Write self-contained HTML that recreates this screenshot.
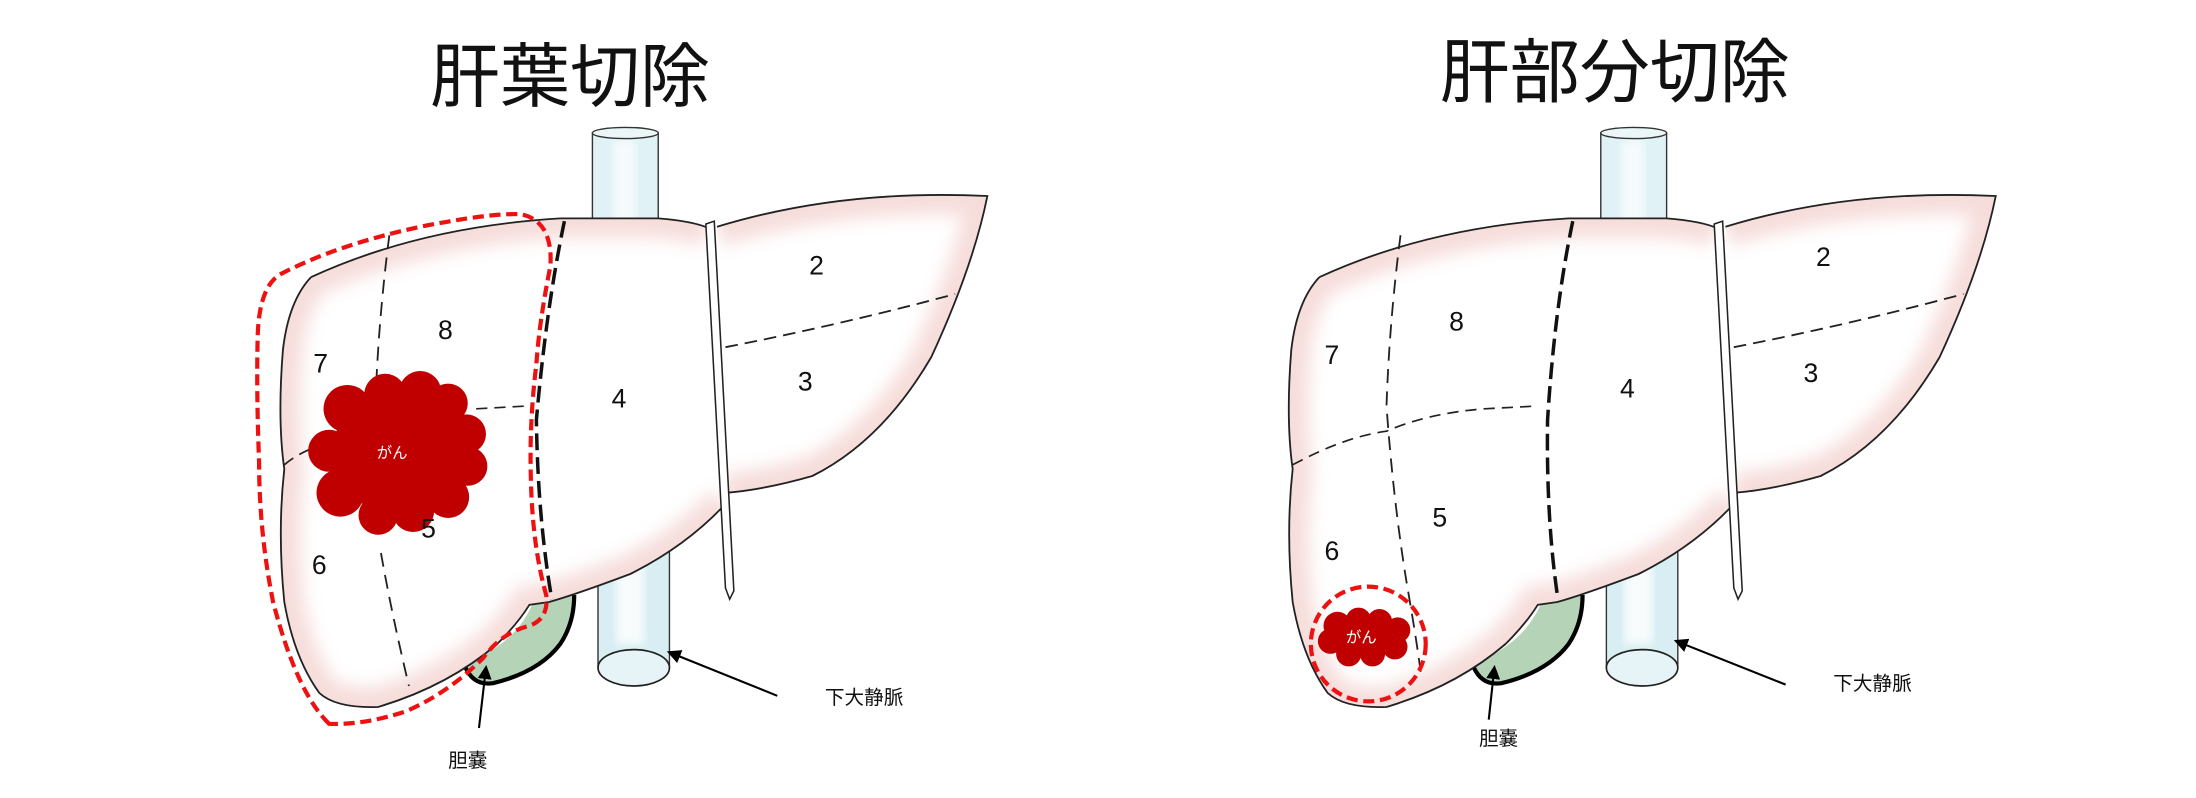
<!DOCTYPE html>
<html><head><meta charset="utf-8"><style>
html,body{margin:0;padding:0;background:#fff;}
svg{display:block;}
text{font-family:"Liberation Sans","Noto Sans CJK JP",sans-serif;}
</style></head><body>
<svg width="2196" height="798" viewBox="0 0 1568 570" preserveAspectRatio="none" xmlns="http://www.w3.org/2000/svg">
<defs>
<filter id="bl" x="-20%" y="-20%" width="140%" height="140%"><feGaussianBlur stdDeviation="6"/></filter>
<filter id="bl2"><feGaussianBlur stdDeviation="3"/></filter>
<clipPath id="cR"><path d="M222,198 Q300,162 400,156 L470,156 Q495,158 506,163 L518,360 Q490,390 450,410 Q410,425 392,430 L378,432 Q370,445 355,460 Q320,490 270,505 Q240,506 228,495 Q210,470 203,430 Q198,380 203,335 Q198,300 202,250 Q206,215 222,198 Z"/></clipPath>
<clipPath id="cL"><path d="M512,162 Q600,135 705,140 Q695,190 665,255 Q630,315 580,340 Q545,350 518,352 Z"/></clipPath>
<marker id="ar" markerWidth="10" markerHeight="10" refX="8" refY="5" orient="auto" markerUnits="userSpaceOnUse"><path d="M0,0 L10,5 L0,10 Z" fill="#000"/></marker>
<g id="liver">
 <rect x="423" y="95" width="47" height="80" fill="#e0f2f6" stroke="#333" stroke-width="1"/>
 <rect x="438" y="100" width="16" height="75" fill="#fff" opacity="0.7" filter="url(#bl2)"/>
 <ellipse cx="446.5" cy="95" rx="23.5" ry="4" fill="#eaf6f8" stroke="#333" stroke-width="1"/>
 <rect x="427" y="385" width="51" height="92" fill="#d8eef3" stroke="#333" stroke-width="1"/>
 <rect x="440" y="390" width="20" height="70" fill="#fff" opacity="0.8" filter="url(#bl2)"/>
 <ellipse cx="452.5" cy="477" rx="25.5" ry="13" fill="#e6f4f7" stroke="#222" stroke-width="1.2"/>
 <path d="M380,432 Q372,450 355,462 Q340,472 332,478 Q338,490 352,488 Q385,480 400,460 Q410,445 410,425 Z" fill="#b5d3b7"/>
 <path d="M332,476 Q338,490 352,488 Q385,480 400,460 Q410,445 410,425" fill="none" stroke="#000" stroke-width="3"/>
 <path d="M222,198 Q300,162 400,156 L470,156 Q495,158 506,163 L518,360 Q490,390 450,410 Q410,425 392,430 L378,432 Q370,445 355,460 Q320,490 270,505 Q240,506 228,495 Q210,470 203,430 Q198,380 203,335 Q198,300 202,250 Q206,215 222,198 Z" fill="#fff"/>
 <g clip-path="url(#cR)"><path d="M222,198 Q300,162 400,156 L470,156 Q495,158 506,163 M518,360 Q490,390 450,410 Q410,425 392,430 L378,432 Q370,445 355,460 Q320,490 270,505 Q240,506 228,495 Q210,470 203,430 Q198,380 203,335 Q198,300 202,250 Q206,215 222,198" fill="none" stroke="#e8aaa4" stroke-width="28" opacity="0.4" filter="url(#bl)"/></g>
 <path d="M222,198 Q300,162 400,156 L470,156 Q495,158 506,163 M518,360 Q490,390 450,410 Q410,425 392,430 L378,432 Q370,445 355,460 Q320,490 270,505 Q240,506 228,495 Q210,470 203,430 Q198,380 203,335 Q198,300 202,250 Q206,215 222,198" fill="none" stroke="#222" stroke-width="1.3"/>
 <path d="M512,162 Q600,135 705,140 Q695,190 665,255 Q630,315 580,340 Q545,350 518,352 Z" fill="#fff"/>
 <g clip-path="url(#cL)"><path d="M512,162 Q600,135 705,140 Q695,190 665,255 Q630,315 580,340 Q545,350 518,352" fill="none" stroke="#e8aaa4" stroke-width="28" opacity="0.4" filter="url(#bl)"/></g>
 <path d="M512,162 Q600,135 705,140 Q695,190 665,255 Q630,315 580,340 Q545,350 518,352" fill="none" stroke="#222" stroke-width="1.3"/>
 <path d="M504,160 L510,158 L524,422 L521,428 L518,420 Z" fill="#fff" stroke="#222" stroke-width="1.1"/>
 <path d="M518,248 Q600,232 682,210" fill="none" stroke="#222" stroke-width="1.3" stroke-dasharray="9,5"/>
</g>
</defs>

<text x="407" y="72" font-size="50" text-anchor="middle" fill="#111">肝葉切除</text>
<use href="#liver"/>
<path d="M278,168 Q270,230 268,290" fill="none" stroke="#222" stroke-width="1.3" stroke-dasharray="10,6"/>
<path d="M272,395 Q280,440 292,490" fill="none" stroke="#222" stroke-width="1.3" stroke-dasharray="10,6"/>
<path d="M203,332 Q215,322 230,318 M340,292 L376,290" fill="none" stroke="#222" stroke-width="1.2" stroke-dasharray="8,5"/>
<path d="M403,158 Q390,220 383,300 Q384,370 394,428" fill="none" stroke="#111" stroke-width="2.5" stroke-dasharray="12,5"/>
<g fill="#c00000">
 <circle cx="248" cy="292" r="17"/><circle cx="275" cy="282" r="15"/><circle cx="300" cy="280" r="15"/><circle cx="320" cy="288" r="14"/>
 <circle cx="333" cy="310" r="14"/><circle cx="334" cy="333" r="14"/><circle cx="320" cy="355" r="15"/><circle cx="295" cy="365" r="15"/>
 <circle cx="270" cy="368" r="14"/><circle cx="243" cy="352" r="17"/><circle cx="235" cy="322" r="15"/><circle cx="283" cy="322" r="45"/>
</g>
<text x="280" y="327" font-size="11" text-anchor="middle" fill="#fff">がん</text>
<path d="M235,517 Q212,495 195,430 Q185,380 185,330 Q183,280 184,240 Q185,205 200,196 Q240,175 300,162 Q350,152 372,153 Q395,158 393,190 Q385,230 383,260 Q378,300 379,340 Q380,390 390,425 Q392,442 378,447 Q358,452 345,470 Q320,495 290,508 Q260,518 235,517 Z" fill="none" stroke="#ee1111" stroke-width="3" stroke-dasharray="8,4"/>
<g font-size="19" fill="#111" text-anchor="middle">
 <text x="229" y="266">7</text><text x="318" y="242">8</text><text x="442" y="291">4</text>
 <text x="583" y="196">2</text><text x="575" y="279">3</text><text x="306" y="384">5</text><text x="228" y="410">6</text>
</g>
<line x1="555" y1="497" x2="478" y2="466" stroke="#000" stroke-width="1.5" marker-end="url(#ar)"/>
<line x1="342" y1="520" x2="347" y2="477" stroke="#000" stroke-width="1.5" marker-end="url(#ar)"/>
<text x="617" y="503" font-size="14" text-anchor="middle" fill="#111">下大静脈</text>
<text x="334" y="548" font-size="14" text-anchor="middle" fill="#111">胆嚢</text>

<text x="1153" y="69" font-size="50" text-anchor="middle" fill="#111">肝部分切除</text>
<use href="#liver" transform="translate(720,0)"/>
<path d="M1000,168 Q992,230 990,290 Q995,360 1005,420 Q1012,460 1015,485" fill="none" stroke="#222" stroke-width="1.3" stroke-dasharray="10,6"/>
<path d="M923,332 Q960,312 990,308 Q1020,295 1060,292 L1098,290" fill="none" stroke="#222" stroke-width="1.2" stroke-dasharray="8,5"/>
<path d="M1123,158 Q1110,220 1105,300 Q1104,370 1112,425" fill="none" stroke="#111" stroke-width="2.5" stroke-dasharray="12,5"/>
<g fill="#c00000">
 <circle cx="955" cy="447" r="10"/><circle cx="970" cy="443" r="9"/><circle cx="985" cy="444" r="9"/><circle cx="998" cy="450" r="9"/>
 <circle cx="996" cy="462" r="9"/><circle cx="980" cy="467" r="9"/><circle cx="963" cy="467" r="9"/><circle cx="950" cy="458" r="9"/>
 <ellipse cx="974" cy="455" rx="24" ry="13"/>
</g>
<text x="972" y="459" font-size="11" text-anchor="middle" fill="#fff">がん</text>
<circle cx="977" cy="460" r="41" fill="none" stroke="#ee1111" stroke-width="3" stroke-dasharray="8,4"/>
<g font-size="19" fill="#111" text-anchor="middle">
 <text x="951" y="260">7</text><text x="1040" y="236">8</text><text x="1162" y="284">4</text>
 <text x="1302" y="190">2</text><text x="1293" y="273">3</text><text x="1028" y="376">5</text><text x="951" y="400">6</text>
</g>
<line x1="1275" y1="489" x2="1197" y2="458" stroke="#000" stroke-width="1.5" marker-end="url(#ar)"/>
<line x1="1063" y1="514" x2="1067" y2="477" stroke="#000" stroke-width="1.5" marker-end="url(#ar)"/>
<text x="1337" y="493" font-size="14" text-anchor="middle" fill="#111">下大静脈</text>
<text x="1070" y="532" font-size="14" text-anchor="middle" fill="#111">胆嚢</text>
</svg>
</body></html>
